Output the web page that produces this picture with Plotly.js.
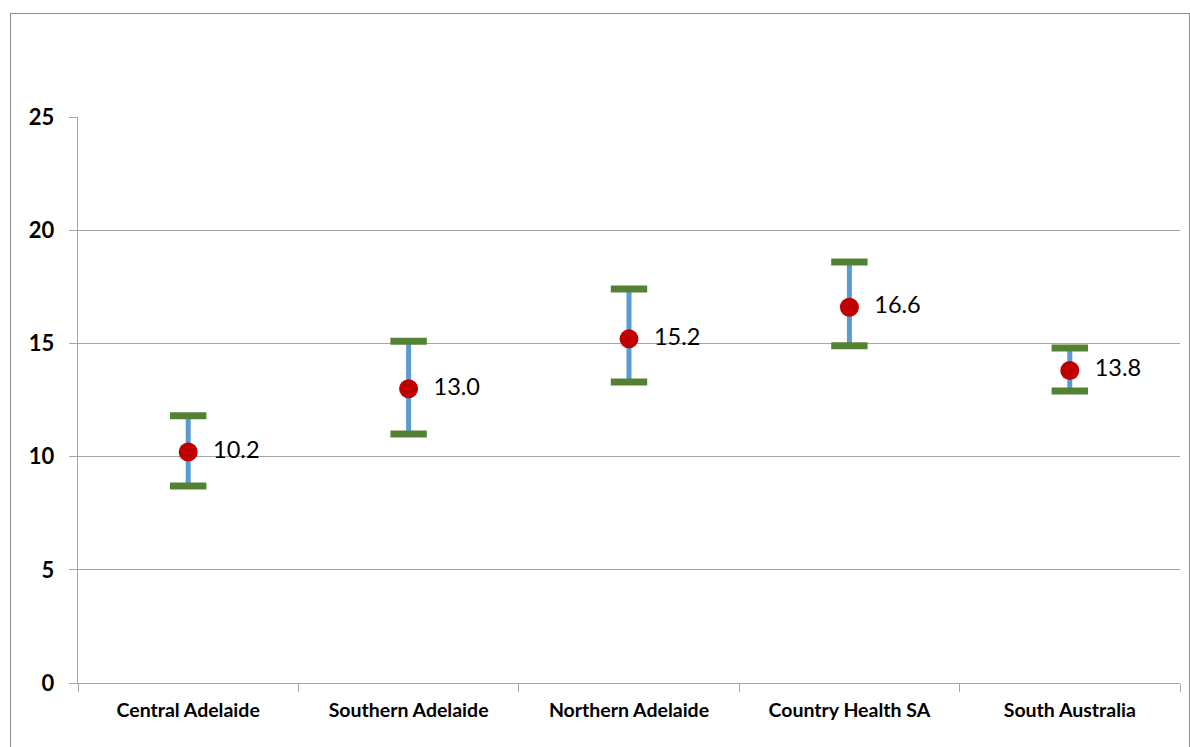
<!DOCTYPE html>
<html>
<head>
<meta charset="utf-8">
<script src="https://cdn.plot.ly/plotly-3.0.1.min.js"></script>
<style>
html,body{margin:0;padding:0;background:#fff;}
#frame{position:absolute;left:10px;top:13px;width:1180px;height:740px;border:1.5px solid #8c8c8c;box-sizing:border-box;}
#chart{position:absolute;left:0;top:0;width:1190px;height:747px;}
</style>
</head>
<body>
<div id="frame"></div>
<div id="chart"></div>
<script>
const categories = ["Central Adelaide", "Southern Adelaide", "Northern Adelaide", "Country Health SA", "South Australia"];
const rates = [10.2, 13.0, 15.2, 16.6, 13.8];
const upper = [11.8, 15.1, 17.4, 18.6, 14.8];
const lower = [8.7, 11.0, 13.3, 14.9, 12.9];
const yTicks = [0, 5, 10, 15, 20, 25];

const font = "Lato, 'Liberation Sans', sans-serif";

const errTrace = {
  x: categories, y: rates, type: "scatter", mode: "markers",
  marker: {size: 1, opacity: 0},
  error_y: {type: "data", symmetric: false,
    array: rates.map((v, i) => upper[i] - v),
    arrayminus: rates.map((v, i) => v - lower[i]),
    color: "#5b9bd5", thickness: 5, width: 0},
  hoverinfo: "skip", showlegend: false
};
const capTrace = {
  x: categories.concat(categories), y: upper.concat(lower), type: "scatter", mode: "markers",
  marker: {symbol: "line-ew", size: 26, line: {width: 7, color: "#548235"}, color: "#548235"},
  hoverinfo: "skip", showlegend: false
};
const pointTrace = {
  x: categories, y: rates, type: "scatter", mode: "markers+text",
  marker: {size: 19, color: "#c00000"},
  texttemplate: "  %{y:.1f}", textposition: "middle right",
  textfont: {family: font, size: 23.5, color: "#000"},
  showlegend: false
};

const layout = {
  width: 1190, height: 747,
  margin: {l: 78, r: 10, t: 117, b: 64},
  paper_bgcolor: "rgba(0,0,0,0)", plot_bgcolor: "#fff",
  showlegend: false,
  xaxis: {type: "category", categoryarray: categories, tickson: "boundaries",
    range: [-0.5, categories.length - 0.5], autorange: false,
    showline: true, linecolor: "#a6a6a6", linewidth: 1.3,
    ticks: "outside", ticklen: 8, tickcolor: "#a6a6a6",
    showgrid: false, zeroline: false,
    tickfont: {family: font, size: 19.5, color: "#000", weight: "bold"},
    ticklabelstandoff: 9},
  yaxis: {range: [0, 25], autorange: false, tickvals: yTicks, ticktext: yTicks.map(String),
    showline: true, linecolor: "#a6a6a6", linewidth: 1.3,
    ticks: "outside", ticklen: 8, tickcolor: "#a6a6a6",
    showgrid: true, gridcolor: "#a6a6a6", gridwidth: 1.3, zeroline: false,
    tickfont: {family: font, size: 22, color: "#000", weight: "bold"},
    ticklabelstandoff: 10}
};

Plotly.newPlot("chart", [errTrace, capTrace, pointTrace], layout, {displayModeBar: false, staticPlot: true});
</script>
</body>
</html>
